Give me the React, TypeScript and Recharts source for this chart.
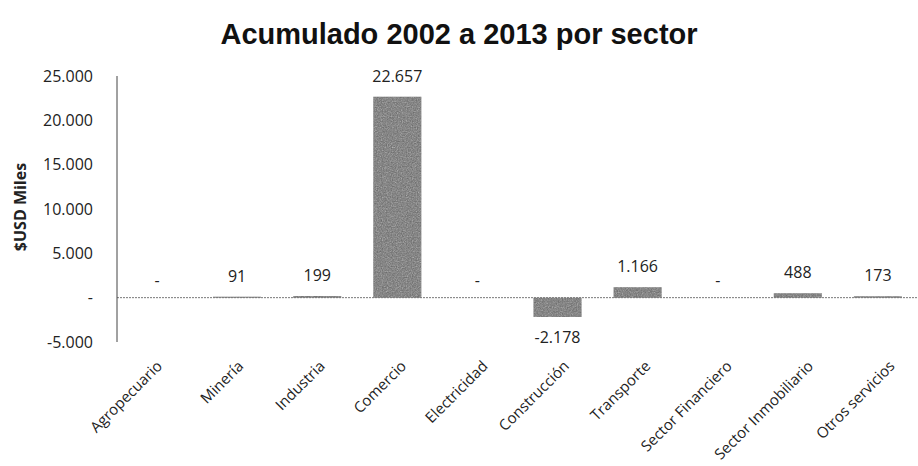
import React from "react";
import { ComposedChart, Bar, Line, XAxis, YAxis, ReferenceLine, LabelList, Label } from "recharts";

const categories = [
  "Agropecuario",
  "Minería",
  "Industria",
  "Comercio",
  "Electricidad",
  "Construcción",
  "Transporte",
  "Sector Financiero",
  "Sector Inmobiliario",
  "Otros servicios",
];
const values = [0, 91, 199, 22657, 0, -2178, 1166, 0, 488, 173];
const yTicks = [-5000, 0, 5000, 10000, 15000, 20000, 25000];
const title = "Acumulado 2002 a 2013 por sector";
const yLabel = "$USD Miles";

const data = categories.map((c, i) => ({ name: c, value: values[i] }));

const fmt = (v: number) => {
  if (v === 0) return "-";
  const s = Math.abs(v).toString().replace(/\B(?=(\d{3})+(?!\d))/g, ".");
  return (v < 0 ? "-" : "") + s;
};

const FONT = "'Open Sans', sans-serif";

const XTick = (props: any) => {
  const { x, y, payload, index } = props;
  const ax = x + 6 + (index || 0) * 1.3;
  const ay = y + 17;
  return (
    <text
      x={ax}
      y={ay}
      transform={`rotate(-45 ${ax} ${ay})`}
      textAnchor="end"
      fontFamily={FONT}
      fontSize={15}
      fill="#222"
    >
      {payload.value}
    </text>
  );
};

const ValueLabel = (props: any) => {
  const { x, y, width, height, value } = props;
  if (value === 0 || value == null) return null;
  const cx = x + width / 2;
  const top = Math.min(y, y + height);
  const bottom = Math.max(y, y + height);
  const ty = value > 0 ? top - 15 : bottom + 26;
  return (
    <text x={cx} y={ty} textAnchor="middle" fontFamily={FONT} fontSize={16} fill="#222">
      {fmt(value)}
    </text>
  );
};

const ZeroLabel = (props: any) => {
  const { x, y, value } = props;
  if (value !== 0) return null;
  return (
    <text x={x} y={y - 12} textAnchor="middle" fontFamily={FONT} fontSize={16} fill="#222">
      {fmt(value)}
    </text>
  );
};

export default function App() {
  return (
    <div style={{ position: "absolute", left: 0, top: 0, width: 918, height: 466, background: "#fff" }}>
      <div
        style={{
          position: "absolute",
          left: 0,
          top: 18,
          width: 918,
          textAlign: "center",
          fontFamily: "'Liberation Sans', Arial, sans-serif",
          fontWeight: "bold",
          fontSize: 29,
          color: "#111",
        }}
      >
        {title}
      </div>
      <ComposedChart
        width={918}
        height={466}
        data={data}
        margin={{ top: 76, right: 0, bottom: 0, left: 0 }}
        barCategoryGap="20%"
      >
        <defs>
          <filter id="grain" x="0" y="0" width="100%" height="100%">
            <feTurbulence type="fractalNoise" baseFrequency="0.8" numOctaves="2" result="n" />
            <feColorMatrix in="n" type="saturate" values="0" result="g" />
            <feComponentTransfer in="g" result="g2">
              <feFuncA type="table" tableValues="0 0.6" />
            </feComponentTransfer>
            <feComposite in="g2" in2="SourceGraphic" operator="in" result="gm" />
            <feMerge>
              <feMergeNode in="SourceGraphic" />
              <feMergeNode in="gm" />
            </feMerge>
          </filter>
        </defs>
        <XAxis
          dataKey="name"
          axisLine={false}
          tickLine={false}
          interval={0}
          height={124}
          tick={<XTick />}
        />
        <YAxis
          domain={[-5000, 25000]}
          ticks={yTicks}
          width={117}
          tickSize={0}
          tickMargin={24}
          tickFormatter={fmt}
          axisLine={{ stroke: "#444", strokeWidth: 1 }}
          tick={{ fontFamily: FONT, fontSize: 16, fill: "#222" }}
          interval={0}
        >
          <Label
            content={(p: any) => {
              const vb = p.viewBox;
              const cx = 20;
              const cy = vb.y + vb.height / 2 - 2;
              return (
                <text
                  x={cx}
                  y={cy}
                  transform={`rotate(-90 ${cx} ${cy})`}
                  textAnchor="middle"
                  dominantBaseline="central"
                  fontFamily={FONT}
                  fontWeight="bold"
                  fontSize={16}
                  fill="#222"
                >
                  {yLabel}
                </text>
              );
            }}
          />
        </YAxis>
        <ReferenceLine y={0} stroke="#777" strokeDasharray="2 1" />
        <Bar dataKey="value" fill="#666666" isAnimationActive={false} filter="url(#grain)">
          <LabelList dataKey="value" content={<ValueLabel />} />
        </Bar>
        <Line
          dataKey="value"
          stroke="none"
          dot={false}
          activeDot={false}
          legendType="none"
          isAnimationActive={false}
        >
          <LabelList dataKey="value" content={<ZeroLabel />} />
        </Line>
      </ComposedChart>
    </div>
  );
}
